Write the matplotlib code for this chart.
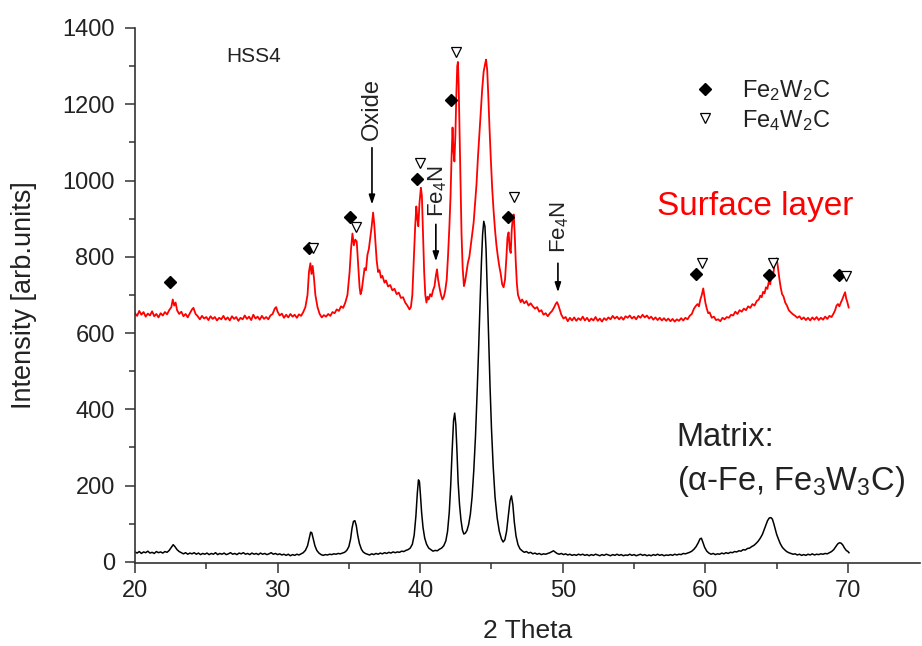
import matplotlib
matplotlib.use("Agg")
import matplotlib.pyplot as plt
from matplotlib.ticker import FixedLocator, MultipleLocator
from matplotlib.lines import Line2D

plt.rcParams["font.family"] = ["Liberation Sans", "DejaVu Sans"]
plt.rcParams["mathtext.fontset"] = "custom"
plt.rcParams["mathtext.rm"] = "Liberation Sans"
plt.rcParams["mathtext.it"] = "Liberation Sans:italic"
plt.rcParams["mathtext.default"] = "regular"

TXT = "#222222"

# -----------------------------
# Data (2 theta, intensity)
# -----------------------------
surface_pts = [
    (20.0, 652), (20.15, 645), (20.3, 658), (20.45, 648), (20.6, 655), (20.75, 643), (20.9, 651),
    (21.05, 646), (21.2, 657), (21.35, 644), (21.5, 650), (21.65, 641), (21.8, 652), (21.95, 646),
    (22.1, 655), (22.25, 649), (22.4, 660), (22.55, 668), (22.65, 688), (22.75, 672), (22.85, 680),
    (22.95, 660), (23.1, 650), (23.25, 656), (23.4, 644), (23.55, 650), (23.7, 641), (23.85, 652),
    (24.0, 662), (24.1, 666), (24.25, 650), (24.4, 644), (24.55, 636), (24.7, 645), (24.85, 638),
    (25.0, 642), (25.15, 634), (25.3, 644), (25.45, 637), (25.6, 642), (25.75, 633), (25.9, 640),
    (26.05, 636), (26.2, 645), (26.35, 635), (26.5, 641), (26.65, 633), (26.8, 644), (26.95, 637),
    (27.1, 642), (27.25, 632), (27.4, 640), (27.55, 636), (27.7, 646), (27.85, 637), (28.0, 643),
    (28.15, 634), (28.3, 648), (28.45, 638), (28.6, 643), (28.75, 635), (28.9, 645), (29.05, 637),
    (29.2, 642), (29.35, 636), (29.5, 646), (29.65, 650), (29.8, 664), (29.9, 668), (30.0, 656),
    (30.15, 646), (30.3, 651), (30.45, 640), (30.6, 648), (30.75, 641), (30.9, 650), (31.05, 643),
    (31.2, 648), (31.35, 640), (31.5, 649), (31.65, 645), (31.8, 655), (31.95, 668), (32.1, 700),
    (32.2, 760), (32.3, 783), (32.38, 755), (32.46, 776), (32.55, 745), (32.65, 700), (32.8, 668),
    (32.95, 650), (33.1, 641), (33.25, 647), (33.4, 643), (33.55, 650), (33.7, 645), (33.85, 655),
    (34.0, 652), (34.15, 662), (34.3, 658), (34.45, 670), (34.6, 666), (34.75, 680), (34.9, 700),
    (35.05, 760), (35.15, 820), (35.25, 861), (35.35, 830), (35.45, 845), (35.55, 840), (35.65, 780),
    (35.75, 720), (35.82, 702), (35.9, 712), (36.0, 740), (36.1, 770), (36.2, 765), (36.3, 805),
    (36.4, 820), (36.5, 850), (36.6, 880), (36.7, 916), (36.78, 885), (36.86, 840), (36.95, 790),
    (37.05, 760), (37.15, 765), (37.25, 745), (37.35, 750), (37.5, 732), (37.6, 738), (37.75, 722),
    (37.9, 726), (38.05, 712), (38.2, 716), (38.35, 702), (38.5, 706), (38.65, 692), (38.8, 694),
    (38.95, 680), (39.1, 672), (39.25, 662), (39.35, 668), (39.45, 700), (39.55, 790), (39.65, 880),
    (39.73, 932), (39.8, 900), (39.87, 880), (39.95, 940), (40.05, 981), (40.12, 960), (40.2, 860),
    (40.28, 760), (40.36, 700), (40.44, 680), (40.52, 695), (40.6, 688), (40.7, 702), (40.8, 696),
    (40.9, 712), (41.0, 722), (41.1, 750), (41.18, 767), (41.26, 740), (41.36, 718), (41.46, 700),
    (41.56, 688), (41.66, 695), (41.76, 712), (41.86, 740), (41.95, 800), (42.05, 880), (42.13, 960),
    (42.2, 1060), (42.27, 1139), (42.33, 1080), (42.4, 1050), (42.47, 1120), (42.54, 1230),
    (42.6, 1300), (42.65, 1311), (42.7, 1250), (42.76, 1130), (42.83, 980), (42.9, 860), (42.98, 770),
    (43.07, 723), (43.15, 735), (43.25, 760), (43.35, 785), (43.45, 800), (43.55, 830), (43.65, 860),
    (43.75, 890), (43.85, 940), (43.95, 990), (44.05, 1060), (44.15, 1120), (44.25, 1180),
    (44.35, 1240), (44.45, 1285), (44.55, 1305), (44.62, 1317), (44.7, 1290), (44.78, 1220),
    (44.86, 1140), (44.95, 1060), (45.05, 980), (45.15, 920), (45.25, 870), (45.35, 830), (45.45, 800),
    (45.55, 775), (45.65, 755), (45.75, 728), (45.85, 720), (45.95, 740), (46.05, 800), (46.12, 850),
    (46.2, 864), (46.28, 820), (46.35, 810), (46.42, 870), (46.5, 905), (46.56, 911), (46.63, 860),
    (46.7, 790), (46.78, 730), (46.86, 700), (46.95, 690), (47.05, 681), (47.15, 688), (47.3, 678),
    (47.45, 684), (47.6, 672), (47.75, 678), (47.9, 670), (48.05, 664), (48.2, 668), (48.35, 656),
    (48.5, 660), (48.65, 648), (48.8, 652), (48.95, 644), (49.1, 652), (49.25, 658), (49.4, 668),
    (49.5, 676), (49.6, 681), (49.7, 672), (49.8, 660), (49.9, 648), (50.05, 638), (50.2, 642),
    (50.35, 631), (50.5, 640), (50.65, 633), (50.8, 641), (50.95, 632), (51.1, 639), (51.25, 634),
    (51.4, 643), (51.55, 633), (51.7, 640), (51.85, 631), (52.0, 638), (52.15, 633), (52.3, 642),
    (52.45, 632), (52.6, 638), (52.75, 630), (52.9, 639), (53.05, 634), (53.2, 641), (53.35, 636),
    (53.5, 645), (53.65, 638), (53.8, 643), (53.95, 636), (54.1, 642), (54.25, 635), (54.4, 644),
    (54.55, 640), (54.7, 646), (54.85, 638), (55.0, 643), (55.15, 636), (55.3, 645), (55.45, 640),
    (55.6, 648), (55.75, 641), (55.9, 646), (56.05, 638), (56.2, 643), (56.35, 635), (56.5, 641),
    (56.65, 634), (56.8, 640), (56.95, 633), (57.1, 639), (57.25, 632), (57.4, 638), (57.55, 631),
    (57.7, 637), (57.85, 630), (58.0, 636), (58.15, 632), (58.3, 639), (58.45, 633), (58.6, 640),
    (58.75, 636), (58.9, 645), (59.05, 650), (59.2, 664), (59.35, 672), (59.45, 676), (59.55, 670),
    (59.65, 688), (59.75, 700), (59.85, 717), (59.92, 700), (60.0, 680), (60.1, 664), (60.2, 652),
    (60.3, 654), (60.45, 640), (60.6, 643), (60.75, 634), (60.9, 636), (61.05, 631), (61.2, 640),
    (61.35, 636), (61.5, 642), (61.65, 640), (61.8, 648), (61.95, 646), (62.1, 656), (62.25, 650),
    (62.4, 660), (62.55, 656), (62.7, 664), (62.85, 660), (63.0, 670), (63.15, 666), (63.3, 676),
    (63.45, 672), (63.6, 684), (63.75, 688), (63.85, 698), (63.95, 694), (64.05, 708), (64.15, 704),
    (64.25, 720), (64.35, 716), (64.45, 735), (64.55, 728), (64.65, 760), (64.75, 750), (64.85, 780),
    (64.92, 790), (65.0, 796), (65.08, 775), (65.18, 745), (65.28, 720), (65.38, 702), (65.48, 696),
    (65.6, 680), (65.72, 672), (65.85, 660), (66.0, 654), (66.15, 649), (66.3, 645), (66.45, 640),
    (66.6, 644), (66.75, 636), (66.9, 641), (67.05, 634), (67.2, 640), (67.35, 633), (67.5, 641),
    (67.65, 635), (67.8, 642), (67.95, 634), (68.1, 640), (68.25, 635), (68.4, 643), (68.55, 637),
    (68.7, 645), (68.85, 642), (69.0, 652), (69.1, 660), (69.2, 672), (69.3, 676), (69.4, 670),
    (69.5, 680), (69.6, 688), (69.7, 698), (69.8, 707), (69.88, 690), (69.95, 682), (70.05, 667),
]

matrix_pts = [
    (20.0, 26), (20.15, 23), (20.3, 27), (20.45, 22), (20.6, 26), (20.75, 24), (20.9, 28),
    (21.05, 23), (21.2, 25), (21.35, 22), (21.5, 27), (21.65, 24), (21.8, 26), (21.95, 23),
    (22.1, 27), (22.25, 25), (22.4, 30), (22.55, 38), (22.68, 45), (22.8, 40), (22.95, 32),
    (23.1, 27), (23.25, 24), (23.4, 21), (23.55, 24), (23.7, 20), (23.85, 23), (24.0, 21),
    (24.15, 24), (24.3, 20), (24.45, 23), (24.6, 19), (24.75, 22), (24.9, 20), (25.05, 23),
    (25.2, 19), (25.35, 22), (25.5, 20), (25.65, 24), (25.8, 19), (25.95, 22), (26.1, 20),
    (26.25, 23), (26.4, 19), (26.55, 21), (26.7, 24), (26.85, 20), (27.0, 22), (27.15, 19),
    (27.3, 23), (27.45, 21), (27.6, 24), (27.75, 20), (27.9, 22), (28.05, 19), (28.2, 23),
    (28.35, 20), (28.5, 22), (28.65, 19), (28.8, 23), (28.95, 20), (29.1, 22), (29.25, 19),
    (29.4, 21), (29.55, 24), (29.7, 20), (29.85, 22), (30.0, 19), (30.15, 21), (30.3, 18),
    (30.45, 20), (30.6, 17), (30.75, 20), (30.9, 16), (31.05, 19), (31.2, 17), (31.35, 20),
    (31.5, 18), (31.65, 21), (31.8, 24), (31.95, 30), (32.1, 42), (32.22, 62), (32.32, 78),
    (32.4, 76), (32.5, 60), (32.62, 42), (32.75, 30), (32.9, 23), (33.05, 19), (33.2, 17),
    (33.35, 19), (33.5, 18), (33.65, 20), (33.8, 19), (33.95, 21), (34.1, 20), (34.25, 22),
    (34.4, 21), (34.55, 23), (34.7, 25), (34.85, 30), (35.0, 40), (35.12, 60), (35.22, 88),
    (35.32, 106), (35.42, 108), (35.52, 95), (35.62, 70), (35.74, 48), (35.88, 33), (36.0, 26),
    (36.15, 22), (36.3, 20), (36.45, 18), (36.6, 21), (36.75, 19), (36.9, 22), (37.05, 20),
    (37.2, 23), (37.35, 21), (37.5, 24), (37.65, 22), (37.8, 25), (37.95, 23), (38.1, 26),
    (38.25, 24), (38.4, 26), (38.55, 25), (38.7, 28), (38.85, 27), (39.0, 30), (39.15, 32),
    (39.3, 36), (39.45, 46), (39.58, 70), (39.7, 120), (39.8, 180), (39.88, 215), (39.95, 210),
    (40.02, 175), (40.1, 130), (40.2, 90), (40.32, 62), (40.45, 46), (40.6, 36), (40.75, 32),
    (40.9, 28), (41.05, 30), (41.2, 29), (41.35, 33), (41.5, 36), (41.65, 42), (41.8, 55),
    (41.92, 80), (42.04, 130), (42.14, 200), (42.24, 290), (42.34, 370), (42.42, 390), (42.5, 360),
    (42.58, 290), (42.66, 210), (42.76, 150), (42.86, 110), (42.96, 84), (43.06, 73), (43.16, 75),
    (43.28, 82), (43.4, 98), (43.52, 125), (43.64, 170), (43.76, 240), (43.88, 330), (44.0, 450),
    (44.1, 560), (44.2, 680), (44.3, 790), (44.38, 860), (44.46, 893), (44.54, 880), (44.62, 820),
    (44.7, 720), (44.8, 590), (44.9, 460), (45.0, 350), (45.12, 250), (45.25, 170), (45.4, 115),
    (45.55, 80), (45.7, 60), (45.82, 52), (45.94, 58), (46.06, 80), (46.18, 120), (46.3, 160),
    (46.4, 173), (46.5, 150), (46.6, 105), (46.72, 68), (46.86, 45), (47.0, 34), (47.15, 29),
    (47.3, 25), (47.45, 27), (47.6, 23), (47.75, 25), (47.9, 21), (48.05, 23), (48.2, 20),
    (48.35, 22), (48.5, 19), (48.65, 21), (48.8, 20), (48.95, 22), (49.1, 24), (49.25, 27),
    (49.35, 29), (49.45, 26), (49.6, 22), (49.75, 20), (49.9, 22), (50.05, 19), (50.2, 21),
    (50.35, 18), (50.5, 20), (50.65, 17), (50.8, 19), (50.95, 17), (51.1, 20), (51.25, 18),
    (51.4, 20), (51.55, 17), (51.7, 19), (51.85, 16), (52.0, 19), (52.15, 17), (52.3, 20),
    (52.45, 18), (52.6, 16), (52.75, 19), (52.9, 17), (53.05, 20), (53.2, 18), (53.35, 16),
    (53.5, 19), (53.65, 17), (53.8, 20), (53.95, 17), (54.1, 19), (54.25, 16), (54.4, 18),
    (54.55, 17), (54.7, 20), (54.85, 17), (55.0, 19), (55.15, 16), (55.3, 18), (55.45, 20),
    (55.6, 17), (55.75, 19), (55.9, 16), (56.05, 18), (56.2, 16), (56.35, 19), (56.5, 17),
    (56.65, 20), (56.8, 17), (56.95, 19), (57.1, 16), (57.25, 18), (57.4, 17), (57.55, 19),
    (57.7, 17), (57.85, 20), (58.0, 18), (58.15, 20), (58.3, 19), (58.45, 22), (58.6, 21),
    (58.75, 23), (58.9, 25), (59.05, 28), (59.2, 33), (59.35, 40), (59.5, 50), (59.62, 60),
    (59.72, 62), (59.82, 52), (59.95, 38), (60.1, 28), (60.25, 23), (60.4, 20), (60.55, 22),
    (60.7, 19), (60.85, 21), (61.0, 20), (61.15, 23), (61.3, 21), (61.45, 24), (61.6, 22),
    (61.75, 25), (61.9, 24), (62.05, 27), (62.2, 26), (62.35, 29), (62.5, 28), (62.65, 32),
    (62.8, 31), (62.95, 35), (63.1, 36), (63.25, 40), (63.4, 43), (63.55, 48), (63.7, 54),
    (63.85, 62), (64.0, 72), (64.12, 84), (64.24, 96), (64.36, 108), (64.48, 115), (64.6, 116),
    (64.7, 112), (64.8, 100), (64.9, 86), (65.0, 72), (65.12, 60), (65.25, 48), (65.4, 38),
    (65.55, 32), (65.7, 27), (65.85, 24), (66.0, 22), (66.15, 20), (66.3, 21), (66.45, 18),
    (66.6, 20), (66.75, 17), (66.9, 19), (67.05, 17), (67.2, 20), (67.35, 18), (67.5, 21),
    (67.65, 18), (67.8, 20), (67.95, 19), (68.1, 21), (68.25, 20), (68.4, 22), (68.55, 21),
    (68.7, 24), (68.85, 27), (69.0, 32), (69.15, 40), (69.28, 47), (69.4, 50), (69.52, 49),
    (69.64, 44), (69.76, 36), (69.88, 30), (70.0, 27), (70.07, 24),
]

# phase markers
fe2w2c_x = [22.45, 32.2, 35.1, 39.75, 42.16, 46.16, 59.34, 64.46, 69.37]
fe2w2c_y = [733, 822, 903, 1003, 1212, 903, 754, 751, 751]
fe4w2c_x = [32.5, 35.5, 40.0, 42.5, 46.58, 59.76, 64.74, 69.86]
fe4w2c_y = [822, 878, 1047, 1338, 958, 783, 783, 749]

# arrow labels: (text, x, text y, arrow start y, arrow end y)
arrow_labels = [
    ("Oxide", 36.62, 1188, 1086, 937),
    ("Fe$_4$N", 41.1, 971, 885, 788),
    ("Fe$_4$N", 49.66, 877, 783, 707),
]

# -----------------------------
# Figure
# -----------------------------
fig = plt.figure(figsize=(9.22, 6.46), dpi=100)
ax = fig.add_axes([0.1464, 0.1285, 0.8514, 0.8282])

sx, sy = zip(*surface_pts)
mx, my = zip(*matrix_pts)
ax.plot(sx, sy, color="#ff0000", lw=1.3)
ax.plot(mx, my, color="black", lw=1.1)

ax.plot(fe2w2c_x, fe2w2c_y, ls="none", marker="D", ms=6.5, color="black")
ax.plot(fe4w2c_x, fe4w2c_y, ls="none", marker="v", ms=7, mfc="white",
        mec="black", mew=0.9)

for label, x, ty, y0, y1 in arrow_labels:
    size = 17 if label == "Oxide" else 16
    ax.text(x + (0 if label == "Oxide" else 0.1), ty, label, rotation=90,
            ha="center", va="center", fontsize=size, color=TXT)
    ax.annotate("", xy=(x, y1), xytext=(x, y0),
                arrowprops=dict(arrowstyle="-|>,head_length=0.55,head_width=0.18",
                                color="black", lw=1.2, shrinkA=0, shrinkB=0))

ax.text(28.35, 1325, "HSS4", ha="center", va="center", fontsize=15, color=TXT)
ax.text(56.6, 932, "Surface layer", ha="left", va="center", fontsize=24,
        color="#ff0000")
ax.text(58.0, 327, "Matrix:", ha="left", va="center", fontsize=23.5, color=TXT)
ax.text(58.0, 212, "(α-Fe, Fe$_3$W$_3$C)", ha="left", va="center",
        fontsize=23.5, color=TXT)

handles = [
    Line2D([], [], ls="none", marker="D", ms=6.5, color="black"),
    Line2D([], [], ls="none", marker="v", ms=7, mfc="white", mec="black", mew=0.9),
]
leg = ax.legend(handles, ["Fe$_2$W$_2$C", "Fe$_4$W$_2$C"], loc="upper left",
                bbox_to_anchor=(0.711, 0.9065), frameon=False, fontsize=17,
                borderaxespad=0, borderpad=0, handlelength=1.0,
                handletextpad=1.07, labelspacing=0.2)
for t in leg.get_texts():
    t.set_color(TXT)

ax.set_xlim(20, 75.05)
ax.set_ylim(-3, 1400)
ax.set_xticks([20, 30, 40, 50, 60, 70])
ax.xaxis.set_minor_locator(FixedLocator([25, 35, 45, 55, 65]))
ax.set_yticks(range(0, 1401, 200))
ax.yaxis.set_minor_locator(MultipleLocator(100))

for side in ("top", "right"):
    ax.spines[side].set_visible(False)
for side in ("left", "bottom"):
    ax.spines[side].set_linewidth(1.2)
    ax.spines[side].set_color("#333333")

ax.tick_params(which="major", direction="out", length=7, width=1.1,
               labelsize=17, colors="#333333", labelcolor=TXT)
ax.tick_params(which="minor", direction="out", length=4, width=1.1,
               colors="#333333")
ax.tick_params(axis="x", which="major", pad=5)
ax.tick_params(axis="y", which="major", pad=7.5)

ax.set_xlabel("2 Theta", fontsize=19, color=TXT)
ax.set_ylabel("Intensity [arb.units]", fontsize=19.5, color=TXT)
ax.xaxis.set_label_coords(0.5, -0.104)
ax.yaxis.set_label_coords(-0.1248, 0.5)

fig.savefig("out.png", dpi=100)
